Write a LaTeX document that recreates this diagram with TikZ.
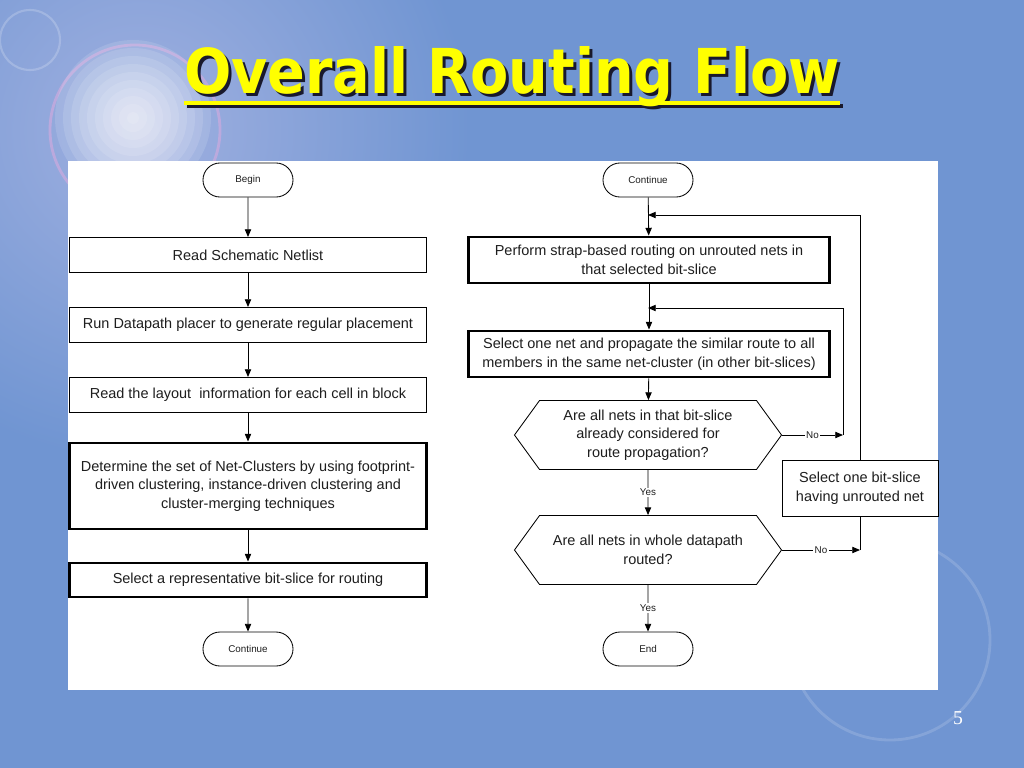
\documentclass[tikz,border=0pt]{standalone}
\usepackage{fontspec}
\setmainfont{Liberation Sans}
\newfontfamily\titlefont{DejaVu Sans Condensed}
\newfontfamily\numfont{Liberation Serif}
\usetikzlibrary{shapes.misc,shapes.symbols,arrows.meta}
\definecolor{slidebg}{RGB}{112,149,210}
\definecolor{slidelight}{RGB}{160,176,224}
\definecolor{flarepink}{RGB}{214,170,222}
\definecolor{titleyellow}{RGB}{255,255,0}
\definecolor{titleshadow}{RGB}{25,25,45}
\definecolor{ink}{RGB}{30,30,30}
\begin{document}
\begin{tikzpicture}[x=0.025cm,y=-0.025cm,
    box/.style={draw=black,line width=0.7pt,fill=white,minimum width=8.9cm,minimum height=0.875cm,
      align=center,inner sep=1pt,text=ink,font=\fontsize{10.3}{13.3}\selectfont},
    thickbox/.style={box,line width=2.1pt},
    term/.style={draw,line width=0.6pt,rounded rectangle,minimum width=2.25cm,minimum height=0.85cm,
      fill=white,inner sep=0pt,text=ink,font=\fontsize{7}{8}\selectfont},
    decide/.style={draw,line width=0.6pt,signal,signal to=east and west,signal pointer angle=108,
      minimum width=6.675cm,minimum height=1.725cm,inner sep=0pt,align=center,fill=white,text=ink,
      font=\fontsize{10.3}{13.3}\selectfont},
    arr/.style={-{Triangle[length=5.5pt,width=4.5pt]},line width=0.6pt},
    lbl/.style={fill=white,inner sep=1pt,text=ink,font=\fontsize{7}{8}\selectfont},
    headline/.style={font=\titlefont\fontsize{44}{50}\bfseries,inner sep=0pt}]
  \useasboundingbox (0,0) rectangle (1024,768);
  \begin{scope}
    \clip (0,0) rectangle (1024,768);
    \fill[slidebg] (0,0) rectangle (1024,768);
    \shade[inner color=slidelight,outer color=slidebg] (140,130) circle (330);
    \draw[flarepink,opacity=0.6,line width=2pt] (135,130) circle (85);
    \foreach \r in {78,70,...,6}
      \fill[white,opacity=0.12] (133,118) circle (\r);
    \draw[white,opacity=0.2,line width=1.5pt] (30,40) circle (30);
    \draw[white,opacity=0.15,line width=2pt] (890,640) circle (100);
  \end{scope}
  \fill[white] (68,161) rectangle (938,690);
  \node[headline,titleshadow] (titleS) at (515,80) {Overall Routing Flow};
  \fill[titleshadow] ([yshift=-5pt]titleS.base west) rectangle ([yshift=-8pt]titleS.base east);
  \node[headline,titleyellow] (title) at (512,77) {Overall Routing Flow};
  \fill[titleyellow] ([yshift=-5pt]title.base west) rectangle ([yshift=-8pt]title.base east);
  \node[white,font=\numfont\fontsize{14}{16}\selectfont] (pageno) at (958,718) {5};

  \node[term] (begin) at (248,180) {Begin};
  \node[box] (netlist) at (248,255) {Read Schematic Netlist};
  \node[box] (placer) at (248,325) {Run Datapath placer to generate regular placement};
  \node[box] (layout) at (248,395) {Read the layout\ \ information for each cell in block};
  \node[thickbox,minimum height=2.15cm] (clusters) at (248,486) {Determine the set of Net-Clusters by using footprint-\\driven clustering, instance-driven clustering and\\cluster-merging techniques};
  \node[thickbox,minimum height=0.85cm] (repslice) at (248,580) {Select a representative bit-slice for routing};
  \node[term] (contL) at (248,649) {Continue};
  \draw[arr] (begin) -- (netlist);
  \draw[arr] (netlist) -- (placer);
  \draw[arr] (placer) -- (layout);
  \draw[arr] (layout) -- (clusters);
  \draw[arr] (clusters) -- (repslice);
  \draw[arr] (repslice) -- (contL);

  \node[term] (contR) at (648,180) {Continue};
  \node[thickbox,minimum width=9cm,minimum height=1.15cm] (strap) at (649,260) {Perform strap-based routing on unrouted nets in\\that selected bit-slice};
  \node[thickbox,minimum width=9cm,minimum height=1.15cm] (propagate) at (649,354) {Select one net and propagate the similar route to all\\members in the same net-cluster (in other bit-slices)};
  \node[decide] (allslice) at (648,435) {Are all nets in that bit-slice\\already considered for\\route propagation?};
  \node[decide] (allnets) at (648,550) {Are all nets in whole datapath\\routed?};
  \node[term] (finish) at (648,649) {End};
  \node[box,minimum width=3.9cm,minimum height=1.4cm] (pickslice) at (860,488) {Select one bit-slice\\having unrouted net};
  \coordinate (m1) at (648,215);
  \coordinate (m2) at (648,308);
  \coordinate (n1) at (843,435);
  \coordinate (n2) at (860,550);
  \draw[arr] (contR) -- (strap);
  \draw[arr] (strap) -- (propagate);
  \draw[arr] (propagate) -- (allslice);
  \draw[arr] (allslice) -- node[lbl] {Yes} (allnets);
  \draw[arr] (allnets) -- node[lbl] {Yes} (finish);
  \draw[arr] (allslice.east) -- node[lbl] {No} (n1);
  \draw[arr] (n1) |- (m2);
  \draw[arr] (allnets.east) -- node[lbl] {No} (n2);
  \draw (n2) -- (pickslice.south);
  \draw[arr] (pickslice.north) |- (m1);
\end{tikzpicture}
\end{document}
